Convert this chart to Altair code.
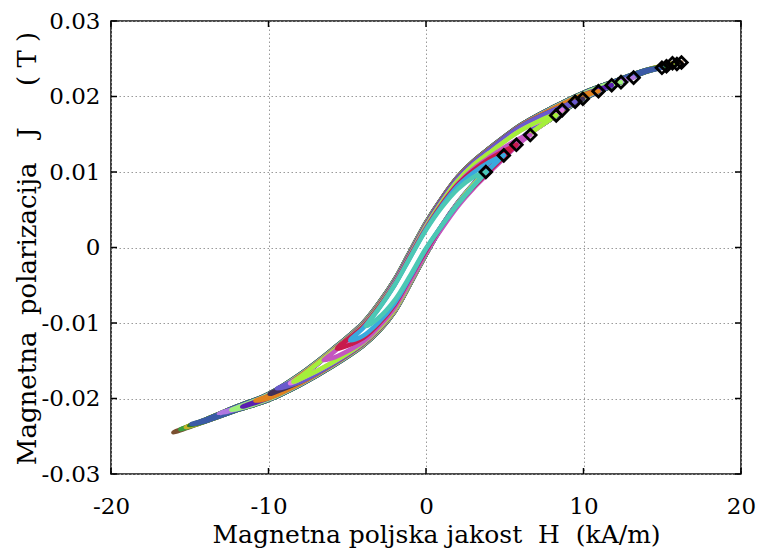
import altair as alt
import pandas as pd

# ---------------- data ----------------
# loop tips (positive and negative reversal points), smallest loop first
TIP_H_POS = [3.8, 4.94, 5.74, 6.62, 8.27, 8.65, 9.47, 9.96, 10.95, 11.79, 12.38, 13.18, 14.98, 15.27, 15.65, 15.93, 16.22]
TIP_J_POS = [0.0100, 0.0122, 0.0136, 0.0149, 0.0175, 0.0182, 0.0193, 0.0197, 0.0207, 0.0215, 0.0219, 0.0225, 0.0238, 0.0240, 0.0244, 0.0243, 0.0245]
TIP_H_NEG = [-3.8, -4.81, -5.65, -6.5, -8.42, -8.63, -9.47, -9.93, -10.83, -11.67, -12.37, -13.15, -14.9, -15.04, -15.25, -15.6, -16.04]
TIP_J_NEG = [-0.0104, -0.0123, -0.0134, -0.0149, -0.0178, -0.0180, -0.0187, -0.0194, -0.0203, -0.0211, -0.0215, -0.0220, -0.0234, -0.0236, -0.0238, -0.0241, -0.0245]

LOOP_COLORS = ["#4cc8b4", "#39a9dd", "#c81a4c", "#c455c0", "#a4ef3a", "#e07ee0", "#6a5acd", "#403058",
               "#e0821e", "#5a1fb0", "#9ff07c", "#b078e0", "#3b5aa6", "#2a7a2a", "#c4b428", "#3aa040", "#7a5030"]
LOOP_BRANCH = ["1", "2", "3", "4", "E", "E", "D", "D", "C", "C", "B", "B", "A", "A", "A", "A", "A"]

# branch readings: H nodes (kA/m), descending-branch J and ascending-branch J (T)
NODES_A = [-14, -12, -10, -8, -6, -4, -3, -2, -1, 0, 1, 2, 3, 4, 6, 8, 10, 12, 14]
DESC_A = [-0.02278, -0.02105, -0.0194, -0.0168, -0.0136, -0.0100, -0.0074, -0.0043, -0.0005, 0.0033, 0.0065, 0.0093, 0.0114, 0.0131, 0.0162, 0.0185, 0.0205, 0.02205, 0.02352]
ASC_A = [-0.02302, -0.02155, -0.0202, -0.0182, -0.0158, -0.0130, -0.0111, -0.0085, -0.0048, -0.0009, 0.0027, 0.0057, 0.0082, 0.0103, 0.0142, 0.0171, 0.0197, 0.02155, 0.02328]

NODES_B = [-12, -10, -8, -6, -4, -3, -2, -1, 0, 1, 2, 3, 4, 6, 8, 10, 12]
DESC_B = [-0.0212, -0.0195, -0.0169, -0.0137, -0.0101, -0.0075, -0.0044, -0.0006, 0.0032, 0.0064, 0.0092, 0.0113, 0.0130, 0.0161, 0.0184, 0.0204, 0.0219]
ASC_B = [-0.0214, -0.0201, -0.0181, -0.0157, -0.0129, -0.0110, -0.0084, -0.0047, -0.0008, 0.0028, 0.0058, 0.0083, 0.0104, 0.0143, 0.0172, 0.0198, 0.0217]

NODES_C = [-10, -8, -6, -4, -3, -2, -1, 0, 1, 2, 3, 4, 6, 8, 10]
DESC_C = [-0.01965, -0.0170, -0.0138, -0.0102, -0.0076, -0.0045, -0.0007, 0.0031, 0.0064, 0.0092, 0.0113, 0.0130, 0.0161, 0.0183, 0.02025]
ASC_C = [-0.01995, -0.0180, -0.0156, -0.0128, -0.0109, -0.0083, -0.0046, -0.0007, 0.0028, 0.0058, 0.0083, 0.0104, 0.0143, 0.0173, 0.01995]

NODES_D = [-8, -6, -4, -3, -2, -1, 0, 1, 2, 3, 4, 6, 8]
DESC_D = [-0.0172, -0.0139, -0.0103, -0.0077, -0.0046, -0.0008, 0.0030, 0.0063, 0.0091, 0.0112, 0.0129, 0.0160, 0.0181]
ASC_D = [-0.0178, -0.0155, -0.0127, -0.0108, -0.0082, -0.0045, -0.0006, 0.0029, 0.0059, 0.0084, 0.0105, 0.0144, 0.0175]

NODES_E = [-8, -6, -4, -3, -2, -1, 0, 1, 2, 3, 4, 6, 8]
DESC_E = [-0.01715, -0.0139, -0.0104, -0.0078, -0.0048, -0.0010, 0.0028, 0.0060, 0.0088, 0.0109, 0.0125, 0.0155, 0.01745]
ASC_E = [-0.01745, -0.0153, -0.0126, -0.0107, -0.0082, -0.0045, -0.0006, 0.0028, 0.0058, 0.0083, 0.0103, 0.0141, 0.01715]

NODES_4 = [-6, -4, -3, -2, -1, 0, 1, 2, 3, 4, 6]
DESC_4 = [-0.0141, -0.0105, -0.0080, -0.0049, -0.0011, 0.0026, 0.0057, 0.0084, 0.0104, 0.0119, 0.0145]
ASC_4 = [-0.0147, -0.0125, -0.0105, -0.0080, -0.0044, -0.0007, 0.0025, 0.0054, 0.0078, 0.0099, 0.0139]

NODES_3 = [-4, -3, -2, -1, 0, 1, 2, 3, 4]
DESC_3 = [-0.0105, -0.0079, -0.0049, -0.0011, 0.0025, 0.0057, 0.0083, 0.0102, 0.0117]
ASC_3 = [-0.0120, -0.0101, -0.0076, -0.0040, -0.0004, 0.0029, 0.0057, 0.0080, 0.0101]

NODES_2 = [-4, -3, -2, -1, 0, 1, 2, 3, 4]
DESC_2 = [-0.0107, -0.0081, -0.0050, -0.0013, 0.0024, 0.0055, 0.0081, 0.0099, 0.0113]
ASC_2 = [-0.0117, -0.0099, -0.0074, -0.0039, -0.0002, 0.0029, 0.0057, 0.0081, 0.0103]

NODES_1 = [-3, -2, -1, 0, 1, 2, 3]
DESC_1 = [-0.0081, -0.0050, -0.0013, 0.0023, 0.0053, 0.0077, 0.0093]
ASC_1 = [-0.0093, -0.0070, -0.0037, -0.0001, 0.0029, 0.0057, 0.0081]

X_TICKS = [-20, -10, 0, 10, 20]
Y_TICKS = [-0.03, -0.02, -0.01, 0, 0.01, 0.02, 0.03]

NB = "\u00a0"
X_TITLE = "Magnetna poljska jakost" + NB * 2 + "H" + NB * 2 + "(kA/m)"
Y_TITLE = "Magnetna" + NB * 2 + "polarizacija" + NB * 3 + "J" + NB * 5 + "(" + NB + "T" + NB + ")"

# ---------------- build tables ----------------
BRANCHES = {
    "A": (NODES_A, DESC_A, ASC_A), "B": (NODES_B, DESC_B, ASC_B), "C": (NODES_C, DESC_C, ASC_C),
    "D": (NODES_D, DESC_D, ASC_D), "E": (NODES_E, DESC_E, ASC_E), "4": (NODES_4, DESC_4, ASC_4),
    "3": (NODES_3, DESC_3, ASC_3), "2": (NODES_2, DESC_2, ASC_2), "1": (NODES_1, DESC_1, ASC_1),
}

rows = []
for k in range(len(TIP_H_POS)):
    nodes, desc, asc = BRANCHES[LOOP_BRANCH[k]]
    pts = [(TIP_H_POS[k], TIP_J_POS[k])]
    pts += list(zip(nodes[::-1], desc[::-1]))
    pts += [(TIP_H_NEG[k], TIP_J_NEG[k])]
    pts += list(zip(nodes, asc))
    pts += [(TIP_H_POS[k], TIP_J_POS[k])]
    for i, (h, j) in enumerate(pts):
        rows.append({"loop": k + 1, "i": i, "H": h, "J": j})
df = pd.DataFrame(rows)
tips = pd.DataFrame({"H": TIP_H_POS, "J": TIP_J_POS})
xt = pd.DataFrame({"v": X_TICKS})
yt = pd.DataFrame({"v": Y_TICKS})

FONT = "DejaVu Serif"
W, HGT = 630, 453
xs = alt.Scale(domain=[-20, 20], nice=False, zero=False)
ys = alt.Scale(domain=[-0.03, 0.03], nice=False, zero=False)

x_axis = alt.Axis(values=X_TICKS, grid=True, gridDash=[1.5, 2.5], gridColor="#9a9a9a", gridWidth=1,
                  ticks=False, domain=False, labelFont=FONT, labelFontSize=23, labelColor="black",
                  labelPadding=39, labelBaseline="alphabetic", labelFlush=False, labelOverlap=False,
                  labelExpr="(datum.value < 0 ? '-' : '') + format(abs(datum.value), 'd')",
                  title=X_TITLE, titleFont=FONT, titleFontSize=25, titleFontWeight="normal",
                  titleColor="black", titleX=325, titleY=68, titleBaseline="alphabetic", titleAlign="center")
y_axis = alt.Axis(values=Y_TICKS, grid=True, gridDash=[1.5, 2.5], gridColor="#9a9a9a", gridWidth=1,
                  ticks=False, domain=False, labelFont=FONT, labelFontSize=23, labelColor="black",
                  labelPadding=11, labelBaseline="middle", labelFlush=False, labelOverlap=False,
                  labelExpr="datum.value == 0 ? '0' : (datum.value < 0 ? '-' : '') + format(abs(datum.value), '.2f')",
                  title=Y_TITLE, titleFont=FONT, titleFontSize=26, titleFontWeight="normal",
                  titleColor="black", titleX=-76, titleY=227, titleBaseline="alphabetic",
                  titleAlign="center", titleAngle=270)

X_ENC = alt.X("H:Q", scale=xs, axis=x_axis)
Y_ENC = alt.Y("J:Q", scale=ys, axis=y_axis)

layers = []
for k in range(len(TIP_H_POS) - 1, -1, -1):
    layers.append(
        alt.Chart(df).transform_filter(alt.datum.loop == k + 1)
        .mark_line(interpolate="catmull-rom", strokeWidth=4.5, color=LOOP_COLORS[k], strokeCap="round")
        .encode(x=X_ENC, y=Y_ENC, order="i:Q")
    )

diamonds = alt.Chart(tips).mark_point(shape="diamond", filled=False, color="black", strokeWidth=2.8,
                                      size=135, opacity=1).encode(x=X_ENC, y=Y_ENC)

tick_len = 6
XT_ENC = alt.X("v:Q", scale=xs, axis=x_axis)
YT_ENC = alt.Y("v:Q", scale=ys, axis=y_axis)
tick_layers = [
    alt.Chart(xt).mark_rule(color="black", strokeWidth=1.5).encode(x=XT_ENC, y=alt.value(HGT), y2=alt.value(HGT - tick_len)),
    alt.Chart(xt).mark_rule(color="black", strokeWidth=1.5).encode(x=XT_ENC, y=alt.value(0), y2=alt.value(tick_len)),
    alt.Chart(yt).mark_rule(color="black", strokeWidth=1.5).encode(y=YT_ENC, x=alt.value(0), x2=alt.value(tick_len)),
    alt.Chart(yt).mark_rule(color="black", strokeWidth=1.5).encode(y=YT_ENC, x=alt.value(W), x2=alt.value(W - tick_len)),
]

chart = alt.layer(*layers, diamonds, *tick_layers).properties(
    width=W, height=HGT,
    autosize=alt.AutoSizeParams(type="none"),
    padding={"left": 111, "top": 21, "right": 18, "bottom": 84},
    background="white",
).configure_view(stroke="#111", strokeWidth=1.6)

chart.save("out.html", embed_options={"renderer": "svg", "actions": False})
